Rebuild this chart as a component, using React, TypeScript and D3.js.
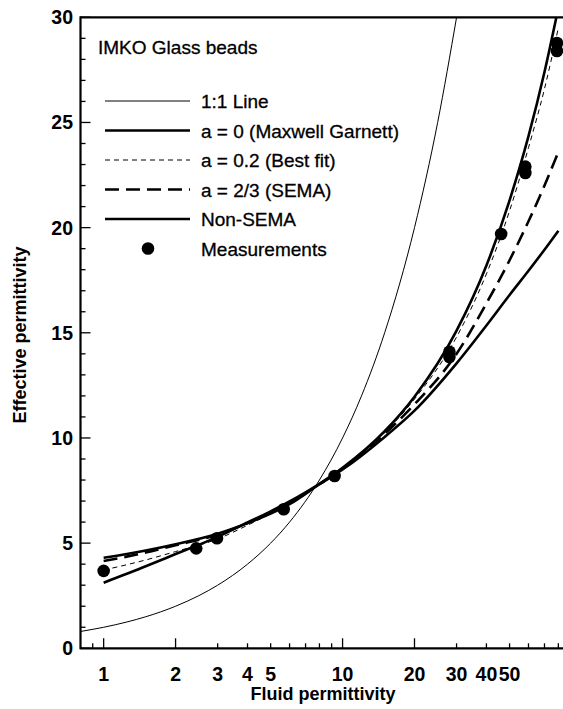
import * as d3 from "d3"
import { useEffect, useRef } from "react"

// Fluid permittivity sample points for the model curves
const fluidX = [1, 1.5, 2, 3, 4, 5, 6, 8, 10, 15, 20, 30, 40, 50, 60, 70, 80]
const maxwellGarnett = [3.12, 3.9, 4.48, 5.3, 5.98, 6.51, 6.98, 7.82, 8.58, 10.32, 11.96, 15.1, 18.2, 21.3, 24.35, 27.4, 30.45]
const bestFit = [3.72, 4.2, 4.6, 5.2, 5.85, 6.4, 6.9, 7.8, 8.55, 10.25, 11.85, 14.8, 17.8, 20.8, 23.8, 26.6, 29.5]
const sema = [4.15, 4.55, 4.9, 5.4, 5.95, 6.45, 6.9, 7.8, 8.55, 10.2, 11.6, 14.0, 16.4, 18.45, 20.3, 22.0, 23.6]
const nonSema = [4.3, 4.65, 4.95, 5.45, 5.95, 6.4, 6.85, 7.8, 8.5, 10.05, 11.3, 13.55, 15.35, 16.8, 17.95, 18.95, 19.85]

// 1:1 line
const oneToOneX = [0.8, 1, 1.25, 1.5, 2, 2.5, 3, 4, 5, 6, 8, 10, 12, 15, 20, 25, 30]
const oneToOneY = [0.8, 1, 1.25, 1.5, 2, 2.5, 3, 4, 5, 6, 8, 10, 12, 15, 20, 25, 30]

// Measurements
const measuredX = [1, 2.44, 2.98, 5.67, 9.26, 28, 28, 46.1, 58.2, 58.2, 78.9, 78.9]
const measuredY = [3.68, 4.75, 5.23, 6.61, 8.19, 14.1, 13.85, 19.7, 22.9, 22.6, 28.78, 28.4]

// Axis ticks
const xMajorTicks = [1, 2, 10, 20]
const xMinorTicks = [0.9, 3, 4, 5, 6, 7, 8, 9, 30, 40, 50, 60, 70, 80]
const xTickLabels = [1, 2, 3, 4, 5, 10, 20, 30, 40, 50]
const yMajorTicks = [0, 5, 10, 15, 20, 25, 30]
const yMinorTicks = d3.range(1, 30).filter(v => v % 5 !== 0)

const legendLabels = [
  "1:1 Line",
  "a = 0 (Maxwell Garnett)",
  "a = 0.2 (Best fit)",
  "a = 2/3 (SEMA)",
  "Non-SEMA",
  "Measurements",
]

const FONT = "'Liberation Sans', Arial, Helvetica, sans-serif"

const App = () => {
  const svgRef = useRef<SVGSVGElement | null>(null)

  useEffect(() => {
    if (!svgRef.current) return
    const svg = d3.select(svgRef.current)
    svg.selectAll("*").remove()

    const x = d3.scaleLog().domain([0.8, 100]).range([80.5, 581.5])
    const y = d3.scaleLinear().domain([0, 30]).range([648.3, 17.3])

    const left = x(0.8)
    const bottom = y(0)
    const top = y(30)

    svg
      .append("defs")
      .append("clipPath")
      .attr("id", "plot-clip")
      .append("rect")
      .attr("x", left)
      .attr("y", top)
      .attr("width", 563 - left)
      .attr("height", bottom - top)

    const plot = svg.append("g").attr("clip-path", "url(#plot-clip)")

    const line = d3
      .line<[number, number]>()
      .x(d => x(d[0]))
      .y(d => y(d[1]))
      .curve(d3.curveMonotoneX)

    const series = [
      { vals: oneToOneX.map((v, i) => [v, oneToOneY[i]] as [number, number]), width: 1, dash: null },
      { vals: fluidX.map((v, i) => [v, maxwellGarnett[i]] as [number, number]), width: 2.6, dash: null },
      { vals: fluidX.map((v, i) => [v, bestFit[i]] as [number, number]), width: 1, dash: "5,4" },
      { vals: fluidX.map((v, i) => [v, sema[i]] as [number, number]), width: 2.6, dash: "14,7" },
      { vals: fluidX.map((v, i) => [v, nonSema[i]] as [number, number]), width: 2.6, dash: null },
    ]

    series.forEach(s => {
      plot
        .append("path")
        .attr("d", line(s.vals))
        .attr("fill", "none")
        .attr("stroke", "#000")
        .attr("stroke-width", s.width)
        .attr("stroke-dasharray", s.dash)
    })

    plot
      .selectAll(".dot")
      .data(measuredX.map((v, i) => [v, measuredY[i]]))
      .enter()
      .append("circle")
      .attr("cx", d => x(d[0]))
      .attr("cy", d => y(d[1]))
      .attr("r", 6.3)
      .attr("fill", "#000")

    // Axes frame
    const axes = svg.append("g").attr("stroke", "#000").attr("fill", "none")
    axes.append("line").attr("x1", left).attr("x2", 563).attr("y1", bottom).attr("y2", bottom).attr("stroke-width", 2.2)
    axes.append("line").attr("x1", left).attr("x2", 563).attr("y1", top).attr("y2", top).attr("stroke-width", 2.2)
    axes.append("line").attr("x1", left).attr("x2", left).attr("y1", top - 1).attr("y2", bottom + 1).attr("stroke-width", 2.2)

    // Ticks pointing inward
    xMajorTicks.forEach(v => {
      axes.append("line").attr("x1", x(v)).attr("x2", x(v)).attr("y1", bottom).attr("y2", bottom - 10).attr("stroke-width", 1.3)
    })
    xMinorTicks.forEach(v => {
      axes.append("line").attr("x1", x(v)).attr("x2", x(v)).attr("y1", bottom).attr("y2", bottom - 5).attr("stroke-width", 1.3)
    })
    yMajorTicks.forEach(v => {
      axes.append("line").attr("x1", left).attr("x2", left + 10).attr("y1", y(v)).attr("y2", y(v)).attr("stroke-width", 1.3)
    })
    yMinorTicks.forEach(v => {
      axes.append("line").attr("x1", left).attr("x2", left + 5).attr("y1", y(v)).attr("y2", y(v)).attr("stroke-width", 1.3)
    })

    // Tick labels
    svg
      .selectAll(".xlab")
      .data(xTickLabels)
      .enter()
      .append("text")
      .attr("x", d => x(d))
      .attr("y", 681)
      .attr("text-anchor", "middle")
      .style("font-family", FONT)
      .style("font-size", "19.5px")
      .style("font-weight", "bold")
      .text(d => d)

    svg
      .selectAll(".ylab")
      .data(yMajorTicks)
      .enter()
      .append("text")
      .attr("x", 73)
      .attr("y", d => y(d) + 7)
      .attr("text-anchor", "end")
      .style("font-family", FONT)
      .style("font-size", "19.5px")
      .style("font-weight", "bold")
      .text(d => d)

    // Axis titles
    svg
      .append("text")
      .attr("x", 323)
      .attr("y", 700)
      .attr("text-anchor", "middle")
      .style("font-family", FONT)
      .style("font-size", "18px")
      .style("font-weight", "bold")
      .text("Fluid permittivity")

    svg
      .append("text")
      .attr("transform", `translate(26,335) rotate(-90)`)
      .attr("text-anchor", "middle")
      .style("font-family", FONT)
      .style("font-size", "18px")
      .style("font-weight", "bold")
      .text("Effective permittivity")

    // Legend
    svg
      .append("text")
      .attr("x", 98)
      .attr("y", 54)
      .style("font-family", FONT)
      .style("font-size", "19px")
      .style("stroke", "#000")
      .style("stroke-width", 0.3)
      .text("IMKO Glass beads")

    const rowY = (i: number) => 101 + i * 29.5
    series.forEach((s, i) => {
      svg
        .append("line")
        .attr("x1", 105)
        .attr("x2", 190)
        .attr("y1", rowY(i))
        .attr("y2", rowY(i))
        .attr("stroke", "#000")
        .attr("stroke-width", s.width)
        .attr("stroke-dasharray", s.dash)
    })
    svg
      .append("circle")
      .attr("cx", 148)
      .attr("cy", rowY(5))
      .attr("r", 6.3)
      .attr("fill", "#000")

    svg
      .selectAll(".leg")
      .data(legendLabels)
      .enter()
      .append("text")
      .attr("x", 201)
      .attr("y", (_d, i) => rowY(i) + 7)
      .style("font-family", FONT)
      .style("font-size", "19px")
      .style("stroke", "#000")
      .style("stroke-width", 0.3)
      .text(d => d)
  }, [])

  return (
    <svg
      ref={svgRef}
      width={563}
      height={709}
      style={{ position: "absolute", left: 0, top: 0, background: "#fff" }}
    />
  )
}

export default App
